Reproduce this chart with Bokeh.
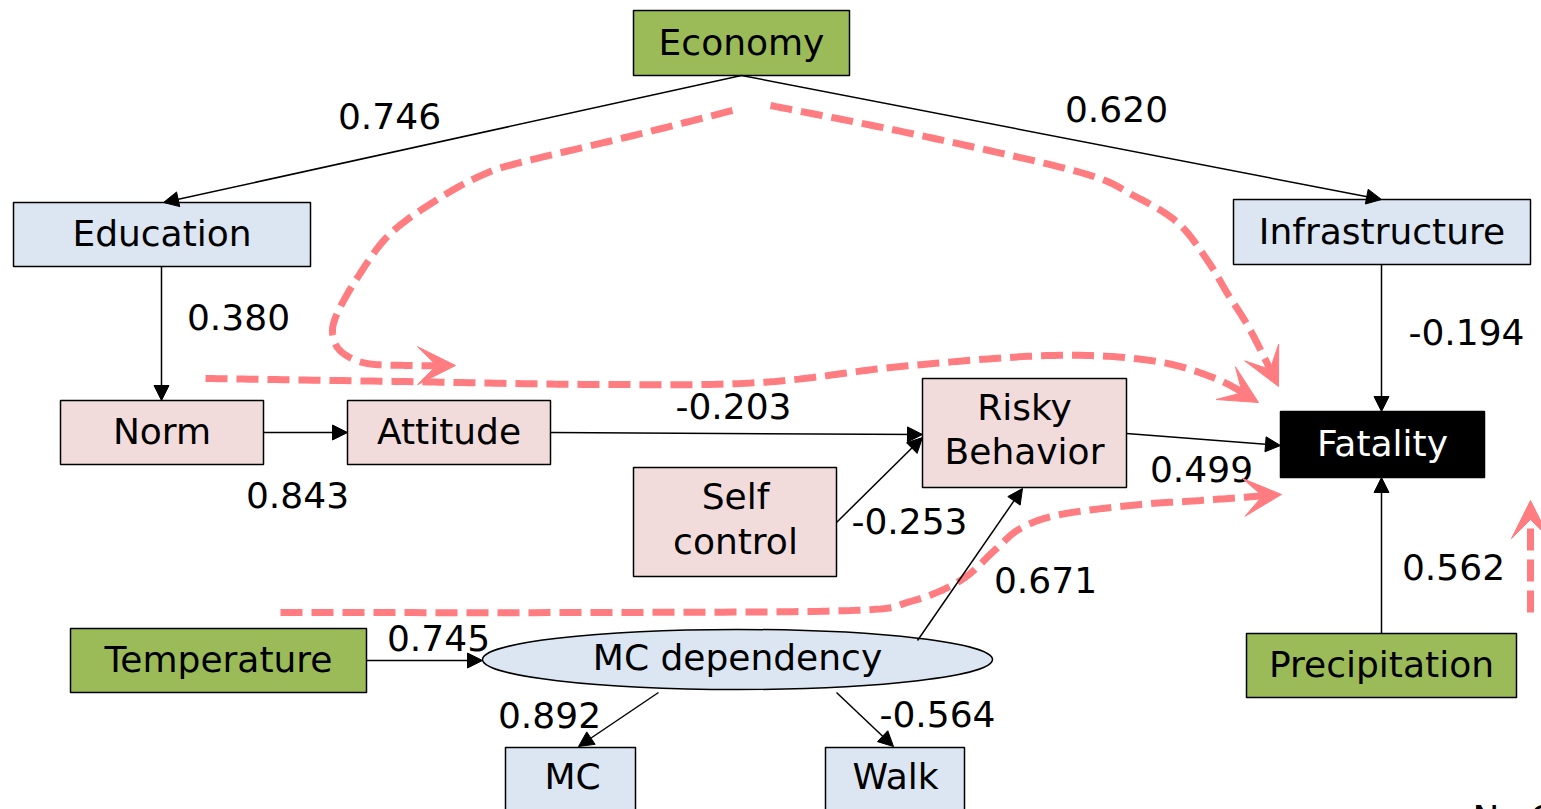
import numpy as np
from bokeh.plotting import figure
from bokeh.models import Range1d, Arrow, NormalHead, VeeHead
from bokeh.core.properties import value
from bokeh.embed import file_html
from bokeh.resources import INLINE

# ---------------- data ----------------
node_names = ["Economy", "Education", "Infrastructure", "Norm", "Attitude",
              "Risky Behavior", "Fatality", "Self control", "Temperature",
              "MC dependency", "Precipitation", "MC", "Walk"]
node_groups = ["macro", "latent", "latent", "psych", "psych", "psych", "outcome",
               "psych", "macro", "latent", "macro", "latent", "latent"]
edge_from = ["Economy", "Economy", "Education", "Infrastructure", "Attitude", "Norm",
             "Risky Behavior", "Self control", "MC dependency", "Precipitation",
             "Temperature", "MC dependency", "MC dependency"]
edge_to = ["Education", "Infrastructure", "Norm", "Fatality", "Risky Behavior", "Attitude",
           "Fatality", "Risky Behavior", "Risky Behavior", "Fatality",
           "MC dependency", "MC", "Walk"]
path_coefs = [0.746, 0.620, 0.380, -0.194, -0.203, 0.843, 0.499, -0.253, 0.671, 0.562,
              0.745, 0.892, -0.564]
note_text = "N=63"

# ---------------- layout (reference pixel space) ----------------
W, H = 1541, 809
X0, Y0 = 0, 0
group_fill = {"macro": "#9BBB59", "latent": "#DCE6F2", "psych": "#F2DCDB", "outcome": "#000000"}
group_text = {"macro": "black", "latent": "black", "psych": "black", "outcome": "white"}

box_rect = {  # left, top, right, bottom
    "Economy": (633, 10, 849, 75),
    "Education": (13, 202, 310, 266),
    "Infrastructure": (1233, 199, 1530, 264),
    "Norm": (60, 400, 263, 464),
    "Attitude": (347, 400, 550, 464),
    "Risky Behavior": (922, 378, 1126, 487),
    "Fatality": (1280, 411, 1484, 477),
    "Self control": (633, 467, 836, 576),
    "Temperature": (70, 628, 366, 692),
    "Precipitation": (1246, 633, 1516, 697),
    "MC": (505, 747, 635, 830),
    "Walk": (825, 747, 964, 830),
}
ellipse_geom = {"MC dependency": (737, 659, 510, 60)}
text_lines = {
    "Risky Behavior": [("Risky", 1024, 407), ("Behavior", 1024, 451)],
    "Self control": [("Self", 735, 496), ("control", 735, 541)],
    "MC": [("MC", 572, 776)],
    "Walk": [("Walk", 895, 776)],
}
edge_geom = [
    ((741, 75), (163, 202)),
    ((741, 75), (1381, 199)),
    ((161, 266), (161, 400)),
    ((1381, 264), (1381, 411)),
    ((550, 432), (922, 434)),
    ((263, 432), (347, 432)),
    ((1126, 433), (1280, 445)),
    ((836, 522), (922, 437)),
    ((917, 640), (1022, 488)),
    ((1381, 633), (1381, 477)),
    ((366, 660), (482, 660)),
    ((658, 692), (578, 746)),
    ((836, 692), (893, 746)),
]
label_pos = [(389, 115), (1116, 108), (238, 316), (1466, 331), (733, 405), (297, 494),
             (1201, 468), (909, 520), (1045, 579), (1453, 566), (438, 637), (549, 714),
             (937, 713)]

red_paths = [
    [(732, 110), (633, 135), (520, 162), (483, 174), (440, 197), (390, 233), (357, 277),
     (335, 317), (333, 338), (343, 353), (367, 363), (410, 365), (455, 365)],
    [(770, 105), (920, 135), (1080, 172), (1133, 195), (1177, 222), (1207, 260),
     (1227, 293), (1250, 330), (1278, 386)],
    [(205, 378), (400, 381), (600, 384), (760, 382), (900, 366), (1050, 355),
     (1150, 360), (1215, 378), (1258, 402)],
    [(280, 612), (600, 612), (850, 610), (910, 601), (960, 580), (995, 549),
     (1020, 528), (1060, 514), (1140, 504), (1200, 500), (1281, 494)],
    [(1530, 612), (1530, 560), (1530, 500)],
]


def catmull(pts, n=30):
    pts = np.array(pts, dtype=float)
    P = np.vstack([pts[0], pts, pts[-1]])
    out = []
    for i in range(1, len(P) - 2):
        p0, p1, p2, p3 = P[i - 1], P[i], P[i + 1], P[i + 2]
        t = np.linspace(0, 1, n, endpoint=False)[:, None]
        seg = 0.5 * ((2 * p1) + (-p0 + p2) * t + (2 * p0 - 5 * p1 + 4 * p2 - p3) * t ** 2
                     + (-p0 + 3 * p1 - 3 * p2 + p3) * t ** 3)
        out.append(seg)
    out.append(pts[-1][None, :])
    return np.vstack(out)


p = figure(width=W, height=H, x_range=Range1d(X0, X0 + W), y_range=Range1d(Y0 + H, Y0),
           output_backend="svg", toolbar_location=None, min_border=0,
           background_fill_color="white", border_fill_color="white")
p.axis.visible = False
p.grid.visible = False
p.outline_line_color = None

FONT = value("DejaVu Sans")
FS = "36px"

# boxes
for name, grp in zip(node_names, node_groups):
    if name in box_rect:
        l, t, r, b = box_rect[name]
        p.quad(left=[l], right=[r], top=[t], bottom=[b], fill_color=group_fill[grp],
               line_color="black", line_width=1.5)
    elif name in ellipse_geom:
        cx, cy, w, h = ellipse_geom[name]
        p.ellipse(x=[cx], y=[cy], width=[w], height=[h], fill_color=group_fill[grp],
                  line_color="black", line_width=1.5)

# black arrows
for (s, e) in edge_geom:
    p.add_layout(Arrow(x_start=s[0], y_start=s[1], x_end=e[0], y_end=e[1],
                       line_color="black", line_width=1.5,
                       end=NormalHead(size=15, fill_color="black", line_color="black",
                                      line_width=1)))

# red dashed influence paths
RED = "#FF7C80"
for pts in red_paths:
    c = catmull(pts)
    tip = c[-1]
    d = c[-1] - c[-4]
    d = d / np.hypot(*d)
    body_end = tip - d * 18
    keep = np.hypot(c[:, 0] - tip[0], c[:, 1] - tip[1]) > 18
    cc = np.vstack([c[keep], body_end[None, :]])
    p.line(cc[:, 0], cc[:, 1], line_color=RED, line_width=7, line_dash="22 9")
    base = tip - d * 6
    p.add_layout(Arrow(x_start=base[0], y_start=base[1], x_end=tip[0], y_end=tip[1],
                       line_alpha=0, line_width=0,
                       end=VeeHead(size=38, fill_color=RED, line_color=RED, line_width=1)))

# node texts
for name, grp in zip(node_names, node_groups):
    if name in text_lines:
        for txt, x, y in text_lines[name]:
            p.text(x=[x], y=[y], text=[txt], text_font=FONT, text_font_size=FS,
                   text_align="center", text_baseline="middle", text_color=group_text[grp])
    elif name in box_rect:
        l, t, r, b = box_rect[name]
        p.text(x=[(l + r) / 2], y=[(t + b) / 2 - 1], text=[name], text_font=FONT,
               text_font_size=FS, text_align="center", text_baseline="middle",
               text_color=group_text[grp])
    else:
        cx, cy, w, h = ellipse_geom[name]
        p.text(x=[cx], y=[cy - 2], text=[name], text_font=FONT, text_font_size=FS,
               text_align="center", text_baseline="middle", text_color=group_text[grp])

# coefficient labels
for v, (x, y) in zip(path_coefs, label_pos):
    p.text(x=[x], y=[y], text=[f"{v:.3f}"], text_font=FONT, text_font_size=FS,
           text_align="center", text_baseline="middle", text_color="black")

p.text(x=[1472], y=[797], text=[note_text], text_font=FONT, text_font_size=FS,
       text_align="left", text_baseline="top", text_color="black")

open("out.html", "w").write(file_html(p, INLINE))
